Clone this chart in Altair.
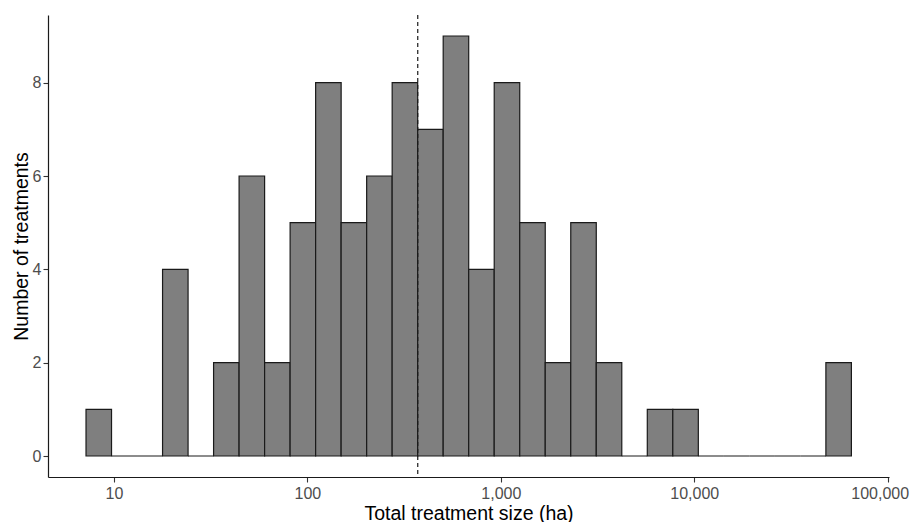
import altair as alt
import pandas as pd

# Histogram counts (30 equal-width bins on a log10 scale)
counts = [1, 0, 0, 4, 0, 2, 6, 2, 5, 8, 5, 6, 8, 7, 9, 4, 8, 5, 2, 5, 2, 0, 1, 1, 0, 0, 0, 0, 0, 2]
log_first_edge = 0.8555   # log10 of the left edge of the first bin (~7.2 ha)
log_bin_width = 0.1319    # width of each bin in log10 units
median_value = 372        # dashed reference line (ha)
x_ticks = [10, 100, 1000, 10000, 100000]
y_ticks = [0, 2, 4, 6, 8]
x_domain = [4.56, 101600]
y_domain = [-0.45, 9.45]

lo = [10 ** (log_first_edge + i * log_bin_width) for i in range(len(counts))]
hi = [10 ** (log_first_edge + (i + 1) * log_bin_width) for i in range(len(counts))]
df = pd.DataFrame({"lo": lo, "hi": hi, "count": counts, "base": [0] * len(counts)})

FONT = "Liberation Sans"

xscale = alt.Scale(type="log", domain=x_domain, nice=False, zero=False)
yscale = alt.Scale(domain=y_domain, nice=False, zero=False)

bars = alt.Chart(df).mark_rect(
    fill="#7f7f7f", stroke="#1a1a1a", strokeWidth=1.2
).encode(
    x=alt.X("lo:Q", scale=xscale,
            axis=alt.Axis(values=x_ticks, format=",", title="Total treatment size (ha)",
                          labelPadding=3, labelFlush=3, labelFlushOffset=21,
                          titleBaseline="alphabetic", titleY=42)),
    x2="hi:Q",
    y=alt.Y("count:Q", scale=yscale,
            axis=alt.Axis(values=y_ticks, format="d", title="Number of treatments",
                          labelPadding=2, titleAngle=-90, titleBaseline="alphabetic",
                          titleX=-21, titleY=231, titleAlign="center")),
    y2="base:Q",
)

rule = alt.Chart(pd.DataFrame({"m": [median_value]})).mark_rule(
    color="#1a1a1a", strokeDash=[4, 3], strokeWidth=1.2
).encode(x=alt.X("m:Q", scale=xscale))

chart = alt.layer(bars, rule).properties(
    width=841, height=462,
    autosize=alt.AutoSizeParams(type="none"),
    padding={"left": 40, "top": 7, "right": 22, "bottom": 45},
).configure_view(stroke=None).configure_axis(
    grid=False,
    labelFont=FONT, labelFontSize=16, labelColor="#4d4d4d",
    titleFont=FONT, titleFontSize=19.5, titleColor="#000000", titleFontWeight="normal",
    domainColor="#1a1a1a", domainWidth=1.2,
    tickColor="#333333", tickSize=5, tickWidth=1.1,
)

chart.save("out.html", embed_options={"renderer": "svg", "actions": False})
